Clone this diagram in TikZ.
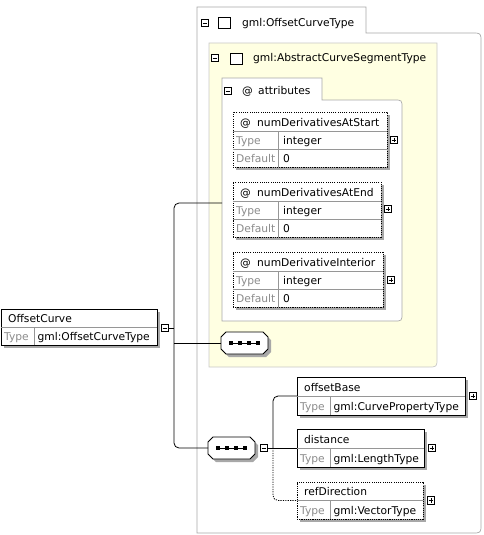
\documentclass[tikz,border=0pt]{standalone}
\usepackage{fontspec}
\setmainfont{DejaVu Sans}
\usetikzlibrary{calc,shadows}
\definecolor{grpline}{RGB}{168,168,168}
\definecolor{yelline}{RGB}{200,200,200}
\definecolor{yel}{RGB}{255,255,226}
\definecolor{lbl}{RGB}{140,140,140}
\definecolor{shd}{RGB}{168,168,168}
\definecolor{rowline}{RGB}{150,150,150}
\tikzset{
  txt/.style={inner sep=0pt, font=\fontsize{10.7}{12}\selectfont, anchor=base west},
  lbltxt/.style={txt, text=lbl},
  shad/.style={general shadow={fill=shd, shadow xshift=3pt, shadow yshift=-3pt}},
  elbox/.style={draw=black, line width=0.9pt, fill=white, shad, inner sep=0pt, outer sep=0pt, anchor=north west},
  atbox/.style={elbox, dash pattern=on 1.1pt off 1.1pt},
  rowln/.style={draw=rowline, line width=0.6pt},
  conn/.style={draw=black, line width=0.8pt},
  optconn/.style={conn, dash pattern=on 1.2pt off 1.2pt},
  pm/.style={draw=black, line width=0.8pt, fill=white, minimum size=7.5pt, inner sep=0pt, outer sep=0pt},
  tabsq/.style={draw=black, line width=0.9pt, fill=white, minimum width=12pt, minimum height=11pt, inner sep=0pt},
  grp/.style={draw=grpline, line width=0.7pt},
  seqfr/.style={inner sep=0pt, outer sep=0pt, anchor=north west},
}
% octagon path
\newcommand\octo[4]{(#1+5,#2) -- (#3-5,#2) -- (#3,#2+5) -- (#3,#4-5) -- (#3-5,#4) -- (#1+5,#4) -- (#1,#4-5) -- (#1,#2+5) -- cycle}
\newcommand\seqbox[5]{%
  \node[seqfr, minimum width={#4-#2}, minimum height={#5-#3}] (#1) at (#2,#3) {};
  \fill[shd] \octo{#2+3}{#3+3}{#4+3}{#5+3};
  \filldraw[fill=white, draw=black, line width=0.9pt] \octo{#2}{#3}{#4}{#5};
  \draw[line width=0.8pt] (#2+10,{(#3+#5)/2}) -- (#2+37,{(#3+#5)/2});
  \foreach \d in {10,19,28,37} \fill (#2+\d-1.8,{(#3+#5)/2-1.8}) rectangle (#2+\d+1.8,{(#3+#5)/2+1.8});
}
\newcommand\minusicon[3]{%
  \node[pm] (#1) at (#2,#3) {};
  \draw[line width=0.8pt] ($(#1.center)+(-2.4,0)$) -- ($(#1.center)+(2.4,0)$);
}
\newcommand\plusicon[3]{%
  \node[pm] (#1) at (#2,#3) {};
  \draw[line width=0.8pt] ($(#1.center)+(-2.4,0)$) -- ($(#1.center)+(2.4,0)$);
  \draw[line width=0.8pt] ($(#1.center)+(0,-2.4)$) -- ($(#1.center)+(0,2.4)$);
}
% element box: style, name, x1, y1, x2, y2, xdiv, title, type
\newcommand\elem[9]{%
  \node[#1, minimum width={#5-#3}, minimum height={#6-#4}] (#2) at (#3,#4) {};
  \draw[rowln] (#2.west) -- (#2.east);
  \draw[rowln] (#7,{(#4+#6)/2}) -- (#7,#6);
  \node[txt] at (#3+7,{(3*#4+#6)/4+4.5}) {#8};
  \node[lbltxt] at (#3+3,{(#4+3*#6)/4+4.5}) {Type};
  \node[txt] at (#7+3.5,{(#4+3*#6)/4+4.5}) {#9};
}
% attribute box: name, x1, y1, x2, y2, title
\newcommand\attrbox[6]{%
  \node[atbox, minimum width={#4-#2}, minimum height={#5-#3}] (#1) at (#2,#3) {};
  \draw[rowln] (#2,#3+19) -- (#4,#3+19);
  \draw[rowln] (#2,#3+37) -- (#4,#3+37);
  \draw[rowln] (#2+45,#3+19) -- (#2+45,#5);
  \node[txt] at (#2+7,#3+14) {@};
  \node[txt] at (#2+24,#3+14) {#6};
  \node[lbltxt] at (#2+3,#3+32.3) {Type};
  \node[txt] at (#2+50,#3+32.3) {integer};
  \node[lbltxt] at (#2+3,#3+50.5) {Default};
  \node[txt] at (#2+50,#3+50.5) {0};
}
\begin{document}
\begin{tikzpicture}[x=1pt,y=-1pt]
\useasboundingbox (0,0) rectangle (483,535);
% outer complex type group
\draw[grp] (197,533) -- (197,7) -- (366,7) -- (366,33) -- (472,33) .. controls (481,33) .. (481,42) -- (481,524) .. controls (481,533) .. (472,533) -- cycle;
\minusicon{mOuter}{205}{23}
\node[tabsq] (sqOuter) at (224.5,23) {};
\node[txt] (tOuter) at (242,27) {gml:OffsetCurveType};
% yellow base type group
\filldraw[fill=yel, draw=yelline, line width=0.7pt] (209,43) -- (437,43) -- (437,358) .. controls (437,367) .. (428,367) -- (209,367) -- cycle;
\minusicon{mYel}{215}{58}
\node[tabsq] (sqYel) at (236,58.5) {};
\node[txt] (tYel) at (253,62) {gml:AbstractCurveSegmentType};
% attributes group
\filldraw[fill=white, draw=grpline, line width=0.7pt] (222,78) -- (322,78) -- (322,100) -- (394,100) .. controls (402,100) .. (402,108) -- (402,313) .. controls (402,321) .. (394,321) -- (222,321) -- cycle;
\minusicon{mAttr}{228}{91}
\node[txt] (tAt) at (242,94) {@};
\node[txt] (tAttr) at (258,94) {attributes};
% attributes
\attrbox{a1}{233}{112}{387}{167}{numDerivativesAtStart}
\plusicon{pa1}{394}{140}
\attrbox{a2}{233}{182}{381}{237}{numDerivativesAtEnd}
\plusicon{pa2}{388}{209}
\attrbox{a3}{233}{252}{383}{307}{numDerivativeInterior}
\plusicon{pa3}{391}{280}
% sequences
\seqbox{seq1}{221}{332}{268}{354}
\seqbox{seq2}{208}{437}{255}{459}
\minusicon{m2}{264}{448}
% root element
\elem{elbox}{oc}{1}{309}{157}{345}{34}{OffsetCurve}{gml:OffsetCurveType}
\minusicon{m1}{165}{328}
% child elements
\elem{elbox}{ob}{297}{377}{465}{415}{330}{offsetBase}{gml:CurvePropertyType}
\plusicon{pob}{473}{396}
\elem{elbox}{dist}{297}{429}{424}{467}{330}{distance}{gml:LengthType}
\plusicon{pdist}{432}{448}
\elem{atbox}{rd}{297}{482}{423}{519}{330}{refDirection}{gml:VectorType}
\plusicon{prd}{431}{500.5}
% connectors
\coordinate (trunk) at (174,0);
\coordinate (trunkB) at (273,0);
\coordinate (attrIn) at (222,203);
\draw[conn, rounded corners=5pt] (attrIn) -- (attrIn -| trunk) -- (seq2.west -| trunk) -- (seq2.west);
\draw[conn] (m1.east) -- (m1.east -| trunk);
\draw[conn] (seq1.west) -- (seq1.west -| trunk);
\draw[conn, rounded corners=5pt] (ob.west) -- (ob.west -| trunkB) -- (dist.west -| trunkB);
\draw[conn] (m2.east) -- (dist.west);
\draw[optconn, rounded corners=5pt] (dist.west -| trunkB) -- (rd.west -| trunkB) -- (rd.west);
\end{tikzpicture}
\end{document}
